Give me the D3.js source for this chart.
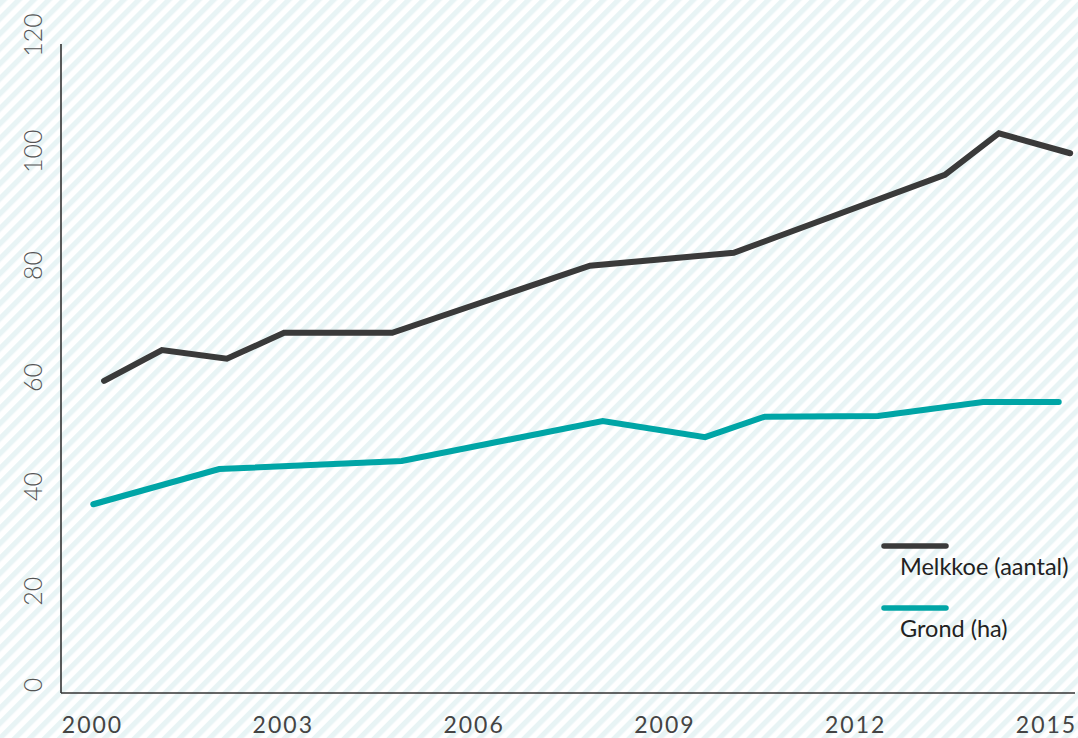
<!DOCTYPE html>
<html>
<head>
<meta charset="utf-8">
<script src="https://cdn.jsdelivr.net/npm/d3@7"></script>
<style>
  html, body { margin: 0; padding: 0; background: #fff; }
  svg { display: block; }
</style>
</head>
<body>
<svg id="chart" width="1078" height="738"></svg>
<script>
// ---- data ----
const melkYears  = [2000.19, 2001.10, 2002.12, 2003.02, 2004.72, 2007.83, 2010.09, 2013.41, 2014.26, 2015.38];
const melkValues = [57.7, 63.4, 61.8, 66.6, 66.6, 79.0, 81.4, 95.8, 103.5, 99.8];
const grondYears  = [2000.02, 2002.00, 2004.87, 2008.03, 2009.64, 2010.58, 2012.36, 2014.01, 2015.20];
const grondValues = [34.9, 41.4, 42.9, 50.3, 47.3, 51.1, 51.2, 53.8, 53.8];
const xTicks = [2000, 2003, 2006, 2009, 2012, 2015];
const yTicks = [0, 20, 40, 60, 80, 100, 120];
const seriesNames = ["Melkkoe (aantal)", "Grond (ha)"];
const seriesColors = ["#3a3a3a", "#00a5a6"];

const svg = d3.select("#chart");
const W = 1078, H = 738;

// background stripes
const defs = svg.append("defs");
const pat = defs.append("pattern")
  .attr("id", "stripes")
  .attr("patternUnits", "userSpaceOnUse")
  .attr("width", 10.6).attr("height", 10.6)
  .attr("patternTransform", "rotate(45)");
pat.append("rect").attr("width", 10.6).attr("height", 10.6).attr("fill", "#ffffff");
pat.append("rect").attr("width", 5.2).attr("height", 10.6).attr("fill", "#e8f4f5");
svg.append("rect").attr("width", W).attr("height", H).attr("fill", "url(#stripes)");

// scales
const x = d3.scaleLinear().domain([2000, 2015]).range([92, 1046]);
const y = d3.scaleLinear().domain([0, 120]).range([693, 44]);
const yLabel = d3.scalePow().exponent(1.08).domain([0, 120]).range([685, 35]);

// axis lines
svg.append("line").attr("x1", 61).attr("x2", 61).attr("y1", y(120)).attr("y2", y(0))
  .attr("stroke", "#333").attr("stroke-width", 1.6);
svg.append("line").attr("x1", 61).attr("x2", 1075).attr("y1", y(0)).attr("y2", y(0))
  .attr("stroke", "#333").attr("stroke-width", 1.6);

// x axis labels
const xAxis = svg.append("g").attr("transform", `translate(0,${y(0)})`)
  .call(d3.axisBottom(x).tickValues(xTicks).tickFormat(d3.format("d")).tickSize(0).tickPadding(0));
xAxis.select(".domain").remove();
xAxis.selectAll("text")
  .attr("y", 40).attr("dy", null)
  .style("font-family", "Lato, sans-serif")
  .style("font-size", "23px")
  .style("letter-spacing", "2px")
  .style("fill", "#444");

// y axis labels (rotated)
const yAxis = svg.append("g")
  .call(d3.axisLeft(yLabel).tickValues(yTicks).tickSize(0));
yAxis.select(".domain").remove();
yAxis.selectAll(".tick").attr("transform", d => `translate(41.5,${yLabel(d)})`);
yAxis.selectAll("text")
  .attr("x", 0).attr("y", 0).attr("dy", null)
  .attr("transform", "rotate(-90)")
  .attr("text-anchor", "middle")
  .style("font-family", "Lato, sans-serif")
  .style("font-weight", "300")
  .style("font-size", "25px")
  .style("fill", "#555");

// lines
const line = d3.line().x(d => x(d[0])).y(d => y(d[1]));
const series = [
  d3.zip(melkYears, melkValues),
  d3.zip(grondYears, grondValues)
];
series.forEach((s, i) => {
  svg.append("path").datum(s)
    .attr("d", line)
    .attr("fill", "none")
    .attr("stroke", seriesColors[i])
    .attr("stroke-width", 6)
    .attr("stroke-linecap", "round")
    .attr("stroke-linejoin", "miter");
});

// legend
const legend = svg.append("g").attr("transform", "translate(882,546)");
seriesNames.forEach((name, i) => {
  const g = legend.append("g").attr("transform", `translate(0,${i * 62})`);
  g.append("line").attr("x1", 2).attr("x2", 64).attr("y1", 0).attr("y2", 0)
    .attr("stroke", seriesColors[i]).attr("stroke-width", 5.5).attr("stroke-linecap", "round");
  g.append("text").attr("x", 18).attr("y", 29)
    .style("font-family", "Lato, sans-serif")
    .style("font-size", "23.5px")
    .style("fill", "#222")
    .text(name);
});
</script>
</body>
</html>
